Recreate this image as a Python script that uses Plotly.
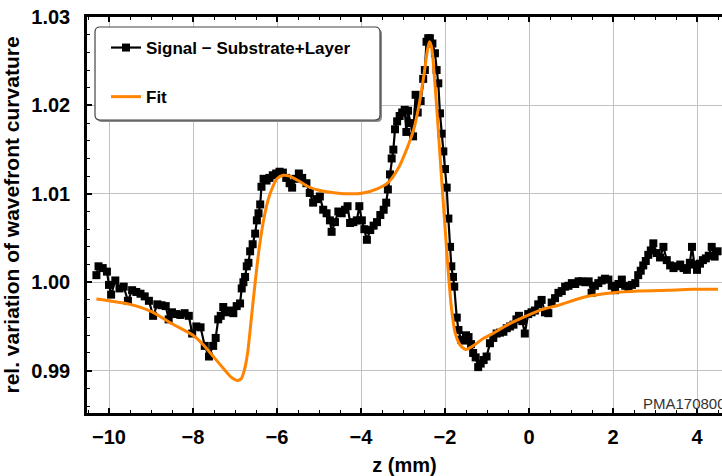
import plotly.graph_objects as go

# ---------------- data ----------------
z_signal = [-10.30, -10.25, -10.15, -10.05, -10.00, -9.95, -9.85, -9.75, -9.65, -9.55,
            -9.45, -9.35, -9.25, -9.15, -9.05, -8.95, -8.85, -8.75, -8.65, -8.58,
            -8.50, -8.40, -8.30, -8.20, -8.10, -8.02, -7.92, -7.82, -7.72, -7.62,
            -7.52, -7.46, -7.40, -7.34, -7.28, -7.20, -7.12, -7.04, -6.96, -6.88,
            -6.84, -6.80, -6.76, -6.72, -6.68, -6.64, -6.58, -6.52, -6.48, -6.44,
            -6.40, -6.37, -6.32, -6.25, -6.18, -6.10, -6.02, -5.94, -5.86, -5.78,
            -5.70, -5.64, -5.56, -5.48, -5.40, -5.30, -5.22, -5.14, -5.06, -4.98,
            -4.90, -4.82, -4.74, -4.70, -4.62, -4.54, -4.46, -4.38, -4.32, -4.26,
            -4.18, -4.10, -4.04, -3.98, -3.92, -3.86, -3.78, -3.70, -3.62, -3.54,
            -3.46, -3.40, -3.36, -3.31, -3.27, -3.23, -3.19, -3.14, -3.08, -3.02,
            -2.96, -2.92, -2.88, -2.82, -2.76, -2.70, -2.65, -2.58, -2.52, -2.48,
            -2.44, -2.40, -2.36, -2.30, -2.24, -2.20, -2.16, -2.12, -2.08, -2.04,
            -2.00, -1.96, -1.92, -1.88, -1.85, -1.81, -1.78, -1.72, -1.68, -1.62,
            -1.56, -1.50, -1.44, -1.38, -1.33, -1.27, -1.21, -1.15, -1.08, -1.01,
            -0.93, -0.85, -0.77, -0.69, -0.61, -0.53, -0.45, -0.37, -0.30, -0.24,
            -0.16, -0.10, -0.02, 0.06, 0.14, 0.22, 0.30, 0.38, 0.46, 0.54,
            0.62, 0.70, 0.78, 0.86, 0.94, 1.02, 1.10, 1.18, 1.26, 1.34,
            1.42, 1.49, 1.57, 1.65, 1.73, 1.81, 1.89, 1.97, 2.05, 2.13,
            2.21, 2.29, 2.37, 2.45, 2.53, 2.60, 2.66, 2.72, 2.78, 2.84,
            2.90, 2.96, 3.04, 3.12, 3.20, 3.28, 3.36, 3.44, 3.52, 3.60,
            3.68, 3.76, 3.83, 3.88, 3.94, 4.00, 4.07, 4.14, 4.21, 4.28,
            4.35, 4.42, 4.49]

y_signal = [1.0008, 1.0018, 1.0016, 1.0012, 0.9997, 0.9986, 1.0002, 0.9993, 0.9995, 0.9979,
            0.9991, 0.9989, 0.9987, 0.9984, 0.9979, 0.9962, 0.9975, 0.9974, 0.9973, 0.9958,
            0.9966, 0.9964, 0.9963, 0.9965, 0.9962, 0.9942, 0.9950, 0.9949, 0.9928, 0.9916,
            0.9928, 0.9937, 0.9958, 0.9962, 0.9972, 0.9966, 0.9968, 0.9965, 0.9973, 0.9976,
            0.9993, 1.0000, 1.0006, 1.0018, 1.0022, 1.0035, 1.0043, 1.0055, 1.0070, 1.0078,
            1.0088, 1.0108, 1.0117, 1.0115, 1.0118, 1.0121, 1.0123, 1.0125, 1.0124, 1.0118,
            1.0112, 1.0107, 1.0117, 1.0123, 1.0118, 1.0112, 1.0101, 1.0090, 1.0094, 1.0097,
            1.0082, 1.0078, 1.0070, 1.0057, 1.0068, 1.0080, 1.0078, 1.0082, 1.0086, 1.0067,
            1.0068, 1.0070, 1.0086, 1.0070, 1.0060, 1.0048, 1.0059, 1.0064, 1.0068, 1.0076,
            1.0082, 1.0090, 1.0105, 1.0122, 1.0140, 1.0150, 1.0173, 1.0182, 1.0188, 1.0192,
            1.0195, 1.0170, 1.0194, 1.0180, 1.0165, 1.0212, 1.0192, 1.0205, 1.0230, 1.0240,
            1.0272, 1.0276, 1.0276, 1.0270, 1.0259, 1.0240, 1.0225, 1.0191, 1.0168, 1.0148,
            1.0128, 1.0107, 1.0072, 1.0040, 1.0018, 1.0006, 0.9995, 0.9960, 0.9946, 0.9935,
            0.9934, 0.9940, 0.9938, 0.9930, 0.9920, 0.9915, 0.9904, 0.9908, 0.9912, 0.9916,
            0.9931, 0.9937, 0.9942, 0.9943, 0.9944, 0.9948, 0.9950, 0.9952, 0.9958, 0.9962,
            0.9956, 0.9942, 0.9964, 0.9966, 0.9968, 0.9975, 0.9980, 0.9966, 0.9965, 0.9977,
            0.9982, 0.9988, 0.9990, 0.9995, 0.9996, 0.9999, 0.9998, 1.0001, 1.0001, 1.0000,
            1.0001, 0.9988, 0.9996, 0.9999, 1.0002, 1.0004, 1.0003, 0.9996, 0.9991, 0.9998,
            1.0003, 0.9996, 0.9993, 0.9997, 0.9999, 1.0008, 1.0013, 1.0019, 1.0024, 1.0031,
            1.0036, 1.0044, 1.0033, 1.0028, 1.0040, 1.0025, 1.0019, 1.0016, 1.0018, 1.0020,
            1.0016, 1.0014, 1.0022, 1.0040, 1.0020, 1.0014, 1.0021, 1.0025, 1.0027, 1.0030,
            1.0040, 1.0029, 1.0035]

z_fit = [-10.3, -10.0, -9.5, -9.0, -8.5, -8.0, -7.75, -7.5, -7.25, -7.1,
         -6.95, -6.85, -6.78, -6.7, -6.62, -6.52, -6.42, -6.3, -6.2, -6.1,
         -6.0, -5.85, -5.7, -5.5, -5.25, -5.0, -4.6, -4.25, -3.95, -3.6,
         -3.35, -3.1, -2.9, -2.75, -2.62, -2.5, -2.42, -2.37, -2.32, -2.24,
         -2.16, -2.08, -2.0, -1.92, -1.84, -1.76, -1.64, -1.5, -1.3, -1.1,
         -0.9, -0.5, -0.1, 0.3, 0.7, 1.3, 2.0, 2.6, 3.3, 3.9, 4.5]

y_fit = [0.9981, 0.9979, 0.9975, 0.9967, 0.9953, 0.9940, 0.9929, 0.9915, 0.9901, 0.9893,
         0.9889, 0.9891, 0.9900, 0.9920, 0.9955, 1.0000, 1.0040, 1.0075, 1.0095, 1.0108,
         1.0117, 1.0121, 1.0120, 1.0115, 1.0108, 1.0104, 1.0101, 1.0100, 1.0101, 1.0106,
         1.0113, 1.0130, 1.0152, 1.0172, 1.0200, 1.0235, 1.0262, 1.0272, 1.0266, 1.0225,
         1.0172, 1.0116, 1.0063, 1.0010, 0.9968, 0.9943, 0.9929, 0.9924, 0.9929, 0.9936,
         0.9941, 0.9952, 0.9961, 0.9969, 0.9974, 0.9983, 0.9988, 0.9990, 0.9991, 0.9992,
         0.9992]

x_ticks = [-10, -8, -6, -4, -2, 0, 2, 4]
y_ticks = [0.99, 1.00, 1.01, 1.02, 1.03]

# ---------------- figure ----------------
W, H = 722, 476
ML, MR, MT, MB = 87, 0, 17, 63
PW, PH = W - ML - MR, H - MT - MB

def px2paper(px, py):
    return (px - ML) / PW, (H - MB - py) / PH

ORANGE = "#FF8400"
FONT = "Liberation Sans, Arial, sans-serif"

fig = go.Figure()
fig.add_trace(go.Scatter(
    x=z_signal, y=y_signal, mode="lines+markers",
    name="Signal \u2212 Substrate+Layer", legendgroup="a",
    line=dict(color="black", width=2.2),
    marker=dict(symbol="square", size=8, color="black"),
))
fig.add_trace(go.Scatter(
    x=z_fit, y=y_fit, mode="lines", name="Fit", legendgroup="b",
    line=dict(color=ORANGE, width=3, shape="spline", smoothing=0.7),
))

# legend box (rounded, with shadow)
bx0, by0 = px2paper(95, 120)
bx1, by1 = px2paper(380, 27)
rx, ry = 5 / PW, 5 / PH

def rounded(x0, y0, x1, y1):
    return (f"M {x0+rx},{y0} L {x1-rx},{y0} Q {x1},{y0} {x1},{y0+ry} "
            f"L {x1},{y1-ry} Q {x1},{y1} {x1-rx},{y1} L {x0+rx},{y1} "
            f"Q {x0},{y1} {x0},{y1-ry} L {x0},{y0+ry} Q {x0},{y0} {x0+rx},{y0} Z")

sx, sy = 2 / PW, 2 / PH
fig.add_shape(type="path", xref="paper", yref="paper",
              path=rounded(bx0 + sx, by0 - sy, bx1 + sx, by1 - sy),
              fillcolor="#8a8a8a", line=dict(width=0), layer="above")
fig.add_shape(type="path", xref="paper", yref="paper",
              path=rounded(bx0, by0, bx1, by1),
              fillcolor="white", line=dict(color="#444444", width=1.2), layer="above")

lx, ly = px2paper(106, 30)
fig.update_layout(
    width=W, height=H,
    margin=dict(l=ML, r=MR, t=MT, b=MB, pad=0),
    paper_bgcolor="white", plot_bgcolor="white",
    font=dict(family=FONT, color="black"),
    showlegend=True,
    legend=dict(x=lx, y=ly, xanchor="left", yanchor="top",
                bgcolor="rgba(0,0,0,0)", borderwidth=0,
                font=dict(size=17, family=FONT, color="black", weight="bold"),
                tracegroupgap=24, traceorder="grouped", itemwidth=30),
    xaxis=dict(
        range=[-10.524, 4.595], tickmode="array", tickvals=x_ticks,
        ticks="inside", ticklen=5, tickwidth=1.5, tickcolor="black",
        showline=True, linecolor="black", linewidth=2.5, mirror="ticks",
        showgrid=True, gridcolor="#c2c2c2", gridwidth=1.3, zeroline=False,
        minor=dict(dtick=0.5, ticks="inside", ticklen=3, tickcolor="black", tickwidth=1.2, showgrid=False),
        tickfont=dict(size=20, family=FONT, weight="bold"),
        ticklabelstandoff=4,
        title=dict(text="z (mm)", font=dict(size=20, family=FONT, weight="bold"), standoff=14),
    ),
    yaxis=dict(
        range=[0.98521, 1.03], tickmode="array", tickvals=y_ticks, tickformat=".2f",
        ticks="inside", ticklen=5, tickwidth=1.5, tickcolor="black",
        showline=True, linecolor="black", linewidth=2.5, mirror=False,
        showgrid=True, gridcolor="#c2c2c2", gridwidth=1.3, zeroline=False,
        minor=dict(dtick=0.002, ticks="inside", ticklen=3, tickcolor="black", tickwidth=1.2, showgrid=False),
        tickfont=dict(size=20, family=FONT, weight="bold"),
        ticklabelstandoff=10,
        title=dict(text="rel. variation of wavefront curvature",
                   font=dict(size=21, family=FONT, weight="bold"), standoff=6),
    ),
)

ax, ay = px2paper(641, 403)
fig.add_annotation(x=ax, y=ay, xref="paper", yref="paper", xanchor="left", yanchor="middle",
                   text="PMA170800", showarrow=False,
                   font=dict(size=15, family=FONT, color="#333333"))

fig.write_html("out.html")
